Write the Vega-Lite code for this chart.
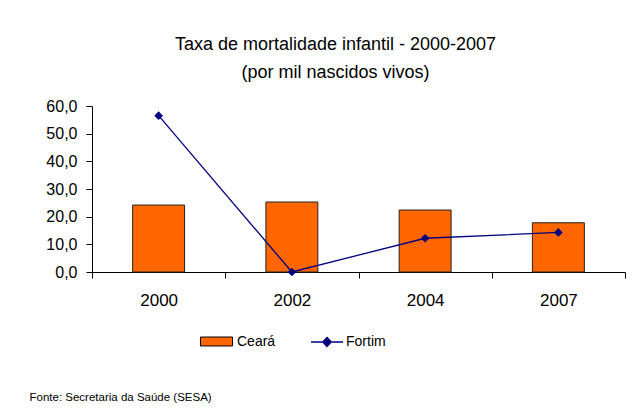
{
  "$schema": "https://vega.github.io/schema/vega-lite/v6.json",
  "autosize": "none",
  "width": 533,
  "height": 166,
  "padding": {"left": 92, "top": 106, "right": 16, "bottom": 144},
  "background": "white",
  "title": {
    "text": ["Taxa de mortalidade infantil - 2000-2007", "(por mil nascidos vivos)"],
    "font": "Liberation Sans",
    "fontSize": 18,
    "fontWeight": "normal",
    "color": "#000000",
    "lineHeight": 28,
    "anchor": "middle",
    "dx": -23,
    "offset": 16
  },
  "data": {
    "values": [
      {"ano": "2000", "Ceara": 24.2, "Fortim": 56.5},
      {"ano": "2002", "Ceara": 25.3, "Fortim": 0.0},
      {"ano": "2004", "Ceara": 22.4, "Fortim": 12.2},
      {"ano": "2007", "Ceara": 17.8, "Fortim": 14.3}
    ]
  },
  "encoding": {
    "x": {
      "field": "ano",
      "type": "ordinal",
      "scale": {"paddingInner": 0, "paddingOuter": 0},
      "axis": {
        "title": "Fonte: Secretaria da Saúde (SESA)",
        "titleFont": "Liberation Sans",
        "titleFontSize": 11.5,
        "titleFontWeight": "normal",
        "titleColor": "#000000",
        "titleAnchor": "start",
        "titleAlign": "left",
        "titleBaseline": "alphabetic",
        "titleX": -63,
        "titleY": 128,
        "labelAngle": 0,
        "labelFont": "Liberation Sans",
        "labelFontSize": 17,
        "labelColor": "#000000",
        "labelPadding": 14,
        "tickBand": "extent",
        "tickSize": 6,
        "tickColor": "#000000",
        "domainColor": "#000000",
        "grid": false
      }
    },
    "y": {
      "type": "quantitative",
      "scale": {"domain": [0, 60], "nice": false},
      "axis": {
        "title": null,
        "values": [0, 10, 20, 30, 40, 50, 60],
        "tickCount": 7,
        "labelOverlap": false,
        "labelExpr": "replace(format(datum.value, '.1f'), '.', ',')",
        "labelFont": "Liberation Sans",
        "labelFontSize": 16,
        "labelColor": "#000000",
        "labelPadding": 9,
        "tickSize": 6,
        "tickColor": "#000000",
        "domainColor": "#000000",
        "grid": false
      }
    }
  },
  "layer": [
    {
      "mark": {"type": "bar", "width": {"band": 0.39}, "stroke": "#222222", "strokeWidth": 1},
      "encoding": {
        "y": {
          "field": "Ceara",
          "type": "quantitative",
          "scale": {"domain": [0, 60], "nice": false},
          "axis": {
            "title": null,
            "values": [0, 10, 20, 30, 40, 50, 60],
            "tickCount": 7,
            "labelOverlap": false,
            "labelExpr": "replace(format(datum.value, '.1f'), '.', ',')",
            "labelFont": "Liberation Sans",
            "labelFontSize": 16,
            "labelColor": "#000000",
            "labelPadding": 9,
            "tickSize": 6,
            "tickColor": "#000000",
            "domainColor": "#000000",
            "grid": false
          }
        },
        "fill": {
          "datum": "Ceará",
          "type": "nominal",
          "scale": {"domain": ["Ceará"], "range": ["#FF6600"]},
          "legend": {
            "title": null,
            "orient": "none",
            "legendX": 108,
            "legendY": 219,
            "symbolType": "M-1,-0.28H1V0.28H-1Z",
            "symbolSize": 1024,
            "symbolStrokeColor": "#000000",
            "symbolStrokeWidth": 1,
            "labelFont": "Liberation Sans",
            "labelFontSize": 14,
            "labelColor": "#000000",
            "labelOffset": 4
          }
        }
      }
    },
    {
      "mark": {
        "type": "line",
        "strokeWidth": 1.3,
        "point": {"shape": "diamond", "size": 75, "filled": true}
      },
      "encoding": {
        "y": {
          "field": "Fortim",
          "type": "quantitative",
          "scale": {"domain": [0, 60], "nice": false},
          "axis": {
            "title": null,
            "values": [0, 10, 20, 30, 40, 50, 60],
            "tickCount": 7,
            "labelOverlap": false,
            "labelExpr": "replace(format(datum.value, '.1f'), '.', ',')",
            "labelFont": "Liberation Sans",
            "labelFontSize": 16,
            "labelColor": "#000000",
            "labelPadding": 9,
            "tickSize": 6,
            "tickColor": "#000000",
            "domainColor": "#000000",
            "grid": false
          }
        },
        "color": {
          "datum": "Fortim",
          "type": "nominal",
          "scale": {"domain": ["Fortim"], "range": ["#000080"]},
          "legend": {
            "title": null,
            "orient": "none",
            "legendX": 218,
            "legendY": 219,
            "symbolType": "M-1,0H1M0,-0.28L0.26,0L0,0.28L-0.26,0Z",
            "symbolSize": 1024,
            "symbolStrokeColor": "#000080",
            "symbolFillColor": "#000080",
            "symbolStrokeWidth": 1.5,
            "labelFont": "Liberation Sans",
            "labelFontSize": 14,
            "labelColor": "#000000",
            "labelOffset": 2
          }
        }
      }
    }
  ],
  "config": {
    "view": {"stroke": null},
    "axis": {"grid": false}
  }
}
